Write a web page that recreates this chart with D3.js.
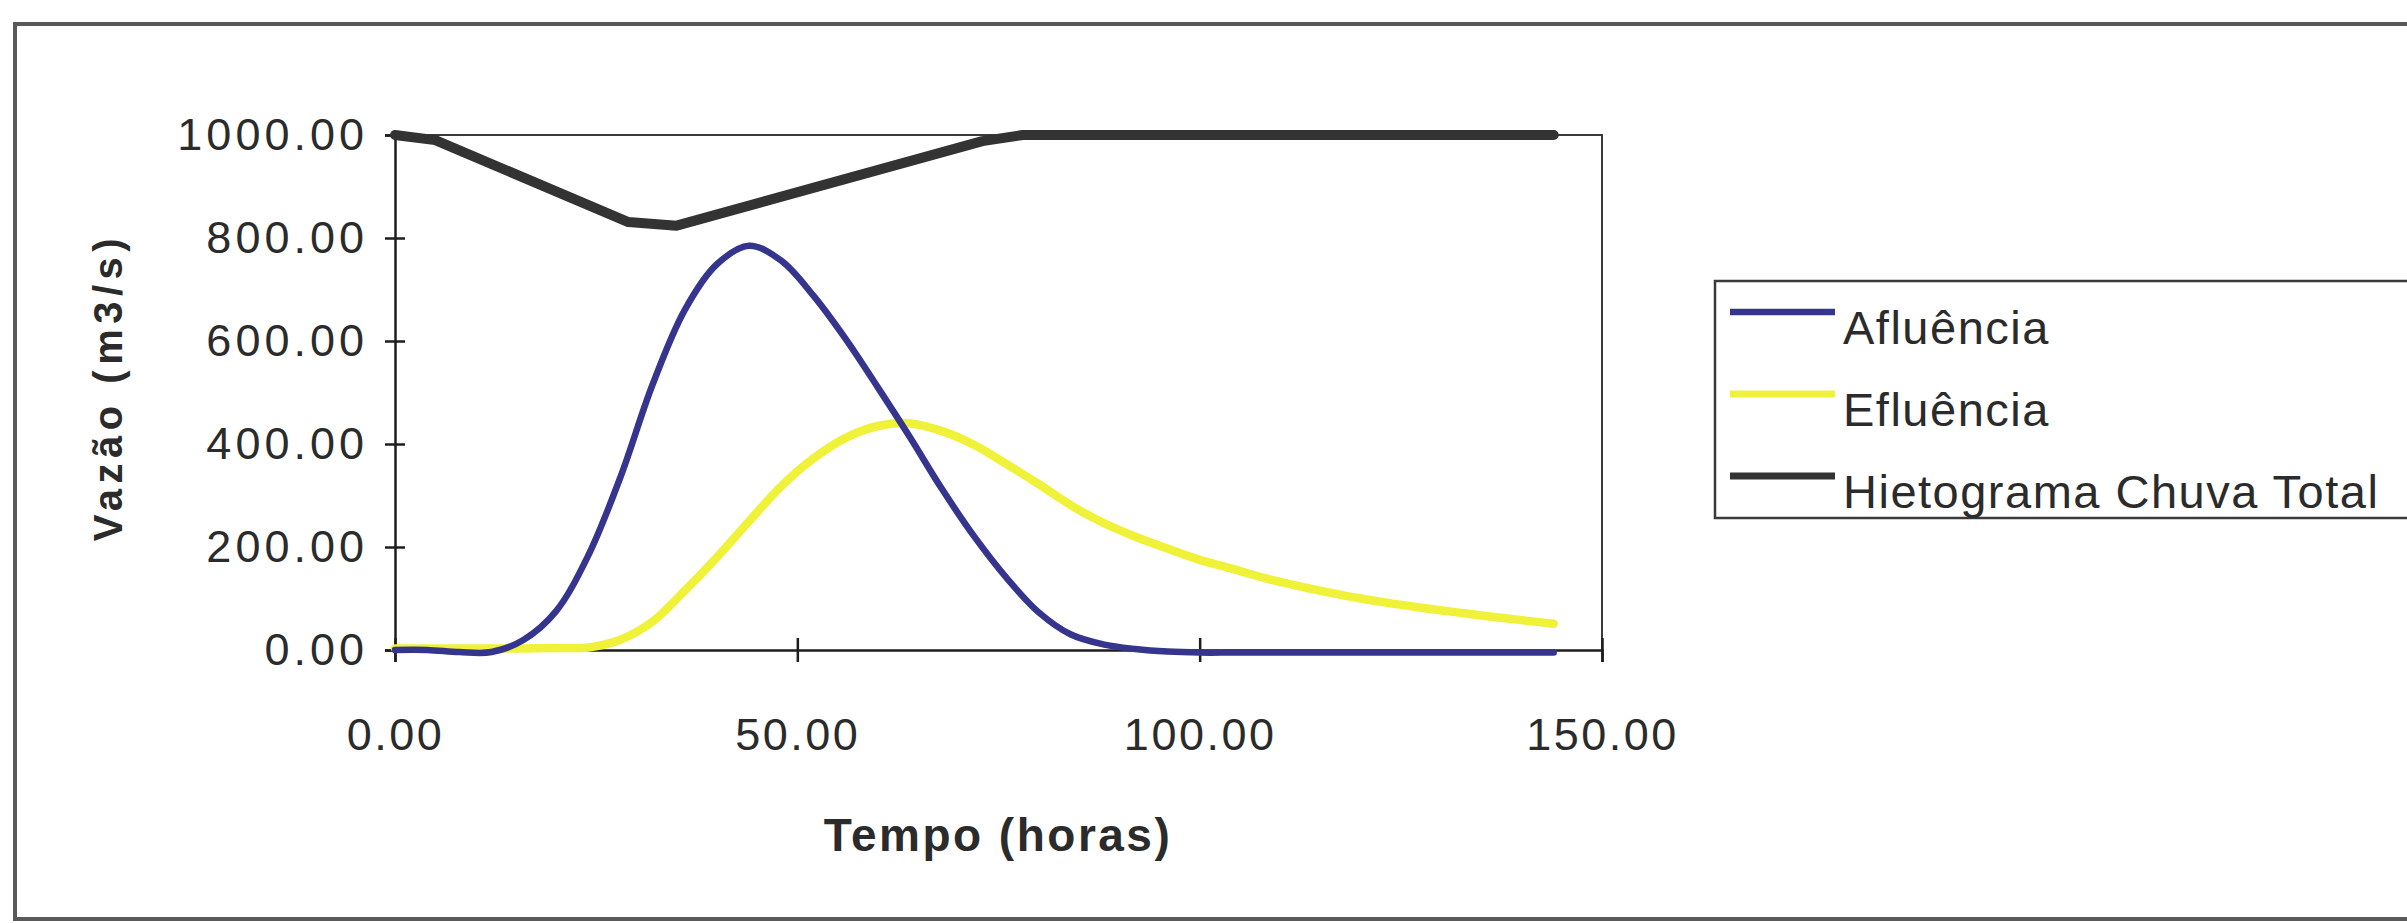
<!DOCTYPE html>
<html>
<head>
<meta charset="utf-8">
<script src="https://cdn.jsdelivr.net/npm/d3@7"></script>
<style>
  html, body { margin: 0; padding: 0; background: #ffffff; }
  svg { display: block; }
  text { font-family: "Liberation Sans", Arial, sans-serif; fill: #2b2b2b; }
</style>
</head>
<body>
<svg id="chart" width="2407" height="923"></svg>
<script>
// Hydrograph time axis (hours)
const hours = [0, 4, 8, 12, 16, 20, 24, 28, 32, 36, 40, 44, 48, 52, 56, 60, 64, 68, 72,
               76, 80, 84, 88, 92, 96, 100, 104, 108, 112, 116, 120, 124, 128, 132, 136, 140, 144];

// Inflow (m3/s)
const afluencia = [0, 0, -4, -4, 20, 75, 183, 335, 515, 660, 749, 785, 756, 688, 604, 510, 413, 312, 220,
                   140, 73, 30, 11, 2, -3, -5, -5, -5, -5, -5, -5, -5, -5, -5, -5, -5, -5];

// Outflow (m3/s)
const efluencia = [3, 3, 3, 3, 3, 4, 5, 20, 55, 115, 180, 250, 318, 372, 412, 435, 440, 425, 398,
                   361, 322, 281, 247, 220, 197, 175, 158, 140, 125, 112, 100, 90, 81, 73, 65, 58, 51];

// Total rainfall hyetograph, drawn hanging from the top of the chart
const hietoHours = [0, 5, 29, 35, 73, 78, 144];
const hietograma = [1000, 990, 831, 824, 988, 1000, 1000];

const xTicks = [0, 50, 100, 150];
const yTicks = [0, 200, 400, 600, 800, 1000];

const seriesNames = ["Afluência", "Efluência", "Hietograma Chuva Total"];
const seriesColors = ["#35358d", "#f0f23a", "#333333"];
const seriesWidths = [6.5, 8.5, 10];

const svg = d3.select("#chart");

// Outer chart border
svg.append("rect")
  .attr("x", 15).attr("y", 24)
  .attr("width", 2420).attr("height", 895)
  .attr("fill", "none").attr("stroke", "#5a5a5a").attr("stroke-width", 4);

const plot = { left: 395, right: 1602, top: 135, bottom: 650 };

const x = d3.scaleLinear().domain([0, 150]).range([plot.left, plot.right]);
const y = d3.scaleLinear().domain([0, 1000]).range([plot.bottom, plot.top]);

// Plot area frame (top and right edges)
svg.append("path")
  .attr("d", `M${plot.left},${plot.top}H${plot.right}V${plot.bottom}`)
  .attr("fill", "none").attr("stroke", "#3a3a3a").attr("stroke-width", 2);

// Axes with cross tick marks
const yAxis = svg.append("g")
  .attr("transform", `translate(${plot.left},0)`)
  .call(d3.axisLeft(y).tickValues(yTicks).tickFormat(d3.format(".2f")).tickSize(10).tickPadding(17));
yAxis.selectAll(".tick line").attr("x1", 10);
yAxis.selectAll(".tick text").style("letter-spacing", "4px");

const xAxis = svg.append("g")
  .attr("transform", `translate(0,${plot.bottom})`)
  .call(d3.axisBottom(x).tickValues(xTicks).tickFormat(d3.format(".2f")).tickSize(12).tickPadding(56));
xAxis.selectAll(".tick line").attr("y1", -12);
xAxis.selectAll(".tick text").style("letter-spacing", "2.5px");

[yAxis, xAxis].forEach(g => {
  g.select(".domain").attr("stroke", "#1e1e1e").attr("stroke-width", 2.5);
  g.selectAll(".tick line").attr("stroke", "#1e1e1e").attr("stroke-width", 2.5);
  g.selectAll(".tick text")
    .style("font-size", "45px")
    .style("font-family", "'Liberation Sans', Arial, sans-serif")
    .attr("fill", "#303030");
});

// Series
const smooth = d3.line().x(d => x(d[0])).y(d => y(d[1])).curve(d3.curveCatmullRom.alpha(0.5));
const straight = d3.line().x(d => x(d[0])).y(d => y(d[1])).curve(d3.curveLinear);

const series = [
  { pts: d3.zip(hours, efluencia), gen: smooth, i: 1 },
  { pts: d3.zip(hours, afluencia), gen: smooth, i: 0 },
  { pts: d3.zip(hietoHours, hietograma), gen: straight, i: 2 }
];

series.forEach(s => {
  svg.append("path")
    .attr("d", s.gen(s.pts))
    .attr("fill", "none")
    .attr("stroke", seriesColors[s.i])
    .attr("stroke-width", seriesWidths[s.i])
    .attr("stroke-linejoin", "round")
    .attr("stroke-linecap", "round");
});

// Axis titles
svg.append("text")
  .attr("transform", "translate(122,387) rotate(-90)")
  .attr("text-anchor", "middle")
  .style("font-size", "40px").style("font-weight", "bold").style("letter-spacing", "5.5px")
  .text("Vazão (m3/s)");

svg.append("text")
  .attr("x", 998).attr("y", 851)
  .attr("text-anchor", "middle")
  .style("font-size", "46px").style("font-weight", "bold").style("letter-spacing", "2.5px")
  .text("Tempo (horas)");

// Legend
const legend = svg.append("g");
legend.append("rect")
  .attr("x", 1715).attr("y", 281).attr("width", 700).attr("height", 237)
  .attr("fill", "#ffffff").attr("stroke", "#3a3a3a").attr("stroke-width", 2.5);

const legendY = [328, 410, 492];
seriesNames.forEach((name, i) => {
  legend.append("line")
    .attr("x1", 1730).attr("x2", 1835)
    .attr("y1", legendY[i] - 16).attr("y2", legendY[i] - 16)
    .attr("stroke", seriesColors[i]).attr("stroke-width", Math.min(seriesWidths[i], 7));
  legend.append("text")
    .attr("x", 1843).attr("y", legendY[i] + 16)
    .style("font-size", "47px").style("letter-spacing", "1.5px")
    .text(name);
});
</script>
</body>
</html>
